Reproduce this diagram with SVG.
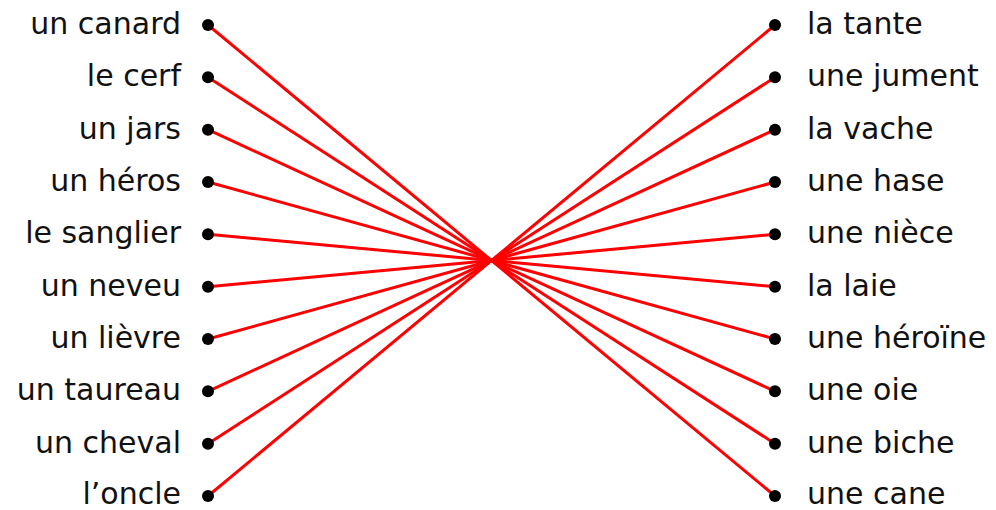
<svg xmlns="http://www.w3.org/2000/svg" width="996" height="510" viewBox="0 0 996 510">
<style>
.l{font-family:"DejaVu Sans","Liberation Sans",sans-serif;font-size:30px;fill:#111;text-anchor:end}
.r{font-family:"DejaVu Sans","Liberation Sans",sans-serif;font-size:30px;fill:#111;text-anchor:start}
.c{stroke:#ff0000;stroke-width:3;fill:none}
.d{fill:#000}
</style>
<rect width="996" height="510" fill="#fff"/>
<g id="connectors">
<line class="c" x1="208" y1="25" x2="775" y2="496"/>
<line class="c" x1="208" y1="77.3" x2="775" y2="443.7"/>
<line class="c" x1="208" y1="129.7" x2="775" y2="391.3"/>
<line class="c" x1="208" y1="182" x2="775" y2="339"/>
<line class="c" x1="208" y1="234.3" x2="775" y2="286.7"/>
<line class="c" x1="208" y1="286.7" x2="775" y2="234.3"/>
<line class="c" x1="208" y1="339" x2="775" y2="182"/>
<line class="c" x1="208" y1="391.3" x2="775" y2="129.7"/>
<line class="c" x1="208" y1="443.7" x2="775" y2="77.3"/>
<line class="c" x1="208" y1="496" x2="775" y2="25"/>
</g>
<g id="L1"><circle class="d" cx="208" cy="25" r="6"/><text class="l" x="181" y="34">un canard</text></g>
<g id="L2"><circle class="d" cx="208" cy="77.3" r="6"/><text class="l" x="181" y="86.3">le cerf</text></g>
<g id="L3"><circle class="d" cx="208" cy="129.7" r="6"/><text class="l" x="181" y="138.7">un jars</text></g>
<g id="L4"><circle class="d" cx="208" cy="182" r="6"/><text class="l" x="181" y="191">un héros</text></g>
<g id="L5"><circle class="d" cx="208" cy="234.3" r="6"/><text class="l" x="181" y="243.3">le sanglier</text></g>
<g id="L6"><circle class="d" cx="208" cy="286.7" r="6"/><text class="l" x="181" y="295.7">un neveu</text></g>
<g id="L7"><circle class="d" cx="208" cy="339" r="6"/><text class="l" x="181" y="348">un lièvre</text></g>
<g id="L8"><circle class="d" cx="208" cy="391.3" r="6"/><text class="l" x="181" y="400.3">un taureau</text></g>
<g id="L9"><circle class="d" cx="208" cy="443.7" r="6"/><text class="l" x="181" y="452.7">un cheval</text></g>
<g id="L10"><circle class="d" cx="208" cy="496" r="6"/><text class="l" x="181" y="504">l’oncle</text></g>
<g id="R1"><circle class="d" cx="775" cy="25" r="6"/><text class="r" x="807" y="34">la tante</text></g>
<g id="R2"><circle class="d" cx="775" cy="77.3" r="6"/><text class="r" x="807" y="86.3">une jument</text></g>
<g id="R3"><circle class="d" cx="775" cy="129.7" r="6"/><text class="r" x="807" y="138.7">la vache</text></g>
<g id="R4"><circle class="d" cx="775" cy="182" r="6"/><text class="r" x="807" y="191">une hase</text></g>
<g id="R5"><circle class="d" cx="775" cy="234.3" r="6"/><text class="r" x="807" y="243.3">une nièce</text></g>
<g id="R6"><circle class="d" cx="775" cy="286.7" r="6"/><text class="r" x="807" y="295.7">la laie</text></g>
<g id="R7"><circle class="d" cx="775" cy="339" r="6"/><text class="r" x="807" y="348">une héroïne</text></g>
<g id="R8"><circle class="d" cx="775" cy="391.3" r="6"/><text class="r" x="807" y="400.3">une oie</text></g>
<g id="R9"><circle class="d" cx="775" cy="443.7" r="6"/><text class="r" x="807" y="452.7">une biche</text></g>
<g id="R10"><circle class="d" cx="775" cy="496" r="6"/><text class="r" x="807" y="504">une cane</text></g>
</svg>
